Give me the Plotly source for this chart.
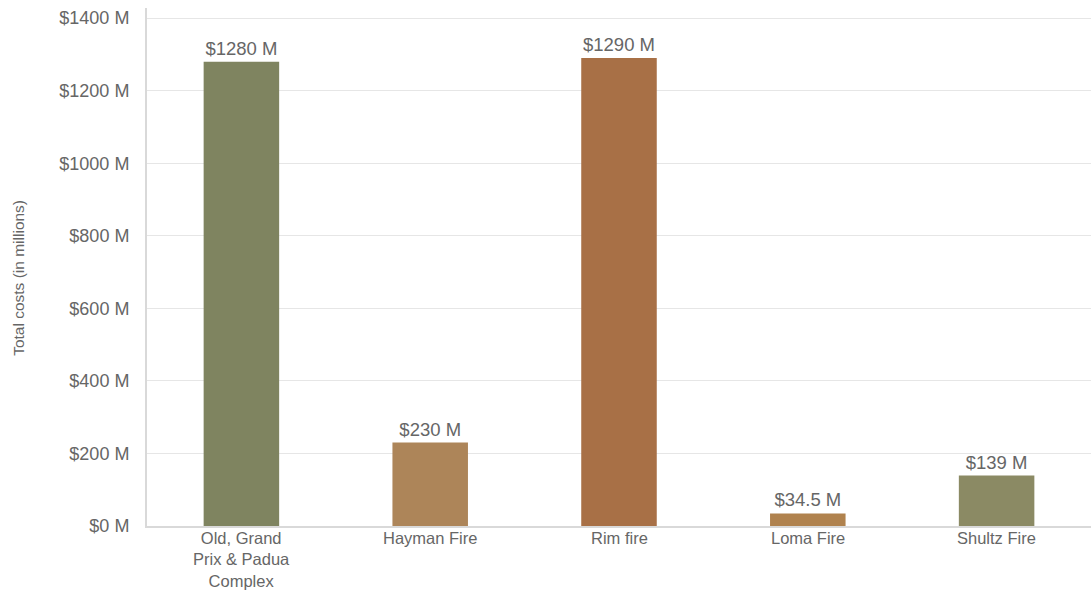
import plotly.graph_objects as go

fires = ["Old, Grand<br>Prix & Padua<br>Complex", "Hayman Fire", "Rim fire", "Loma Fire", "Shultz Fire"]
costs_musd = [1280, 230, 1290, 34.5, 139]
cost_labels = ["$1280 M", "$230 M", "$1290 M", "$34.5 M", "$139 M"]
bar_colors = ["#7f8460", "#ad8559", "#a87046", "#b0824e", "#8b8a64"]
y_ticks = [0, 200, 400, 600, 800, 1000, 1200, 1400]
y_tick_text = [f"${v} M" for v in y_ticks]
y_title = "Total costs (in millions)"

GREY = "#666666"
FONT = "Liberation Sans, Arial, sans-serif"

fig = go.Figure(
    go.Bar(
        x=fires,
        y=costs_musd,
        marker=dict(color=bar_colors, line=dict(width=0)),
        text=cost_labels,
        textposition="outside",
        textfont=dict(size=18.5, color=GREY),
        cliponaxis=False,
    )
)

# Category labels placed just under the axis so the three-line label fits the page
annotations = [
    dict(
        x=name,
        y=0,
        xref="x",
        yref="paper",
        text=name,
        showarrow=False,
        xanchor="center",
        yanchor="top",
        yshift=-2,
        borderpad=0,
        font=dict(family=FONT, size=16.5, color=GREY),
    )
    for name in fires
]

# Vertical axis title
annotations.append(
    dict(
        x=-0.1356,
        y=0.479,
        xref="paper",
        yref="paper",
        text=y_title,
        textangle=-90,
        showarrow=False,
        xanchor="center",
        yanchor="middle",
        font=dict(family=FONT, size=15.5, color=GREY),
    )
)

fig.update_layout(
    width=1091,
    height=590,
    margin=dict(l=147, r=0, t=8, b=64),
    paper_bgcolor="white",
    plot_bgcolor="white",
    font=dict(family=FONT, size=18, color=GREY),
    bargap=0.6,
    showlegend=False,
    annotations=annotations,
)

fig.update_xaxes(
    automargin=False,
    showline=True,
    linecolor="#d9d9d9",
    linewidth=2,
    ticks="",
    showticklabels=False,
)

fig.update_yaxes(
    automargin=False,
    range=[0, 1428],
    tickvals=y_ticks,
    ticktext=y_tick_text,
    showgrid=True,
    gridcolor="#e6e6e6",
    gridwidth=1,
    showline=True,
    linecolor="#d9d9d9",
    linewidth=2,
    zeroline=False,
    ticks="",
    ticklabelstandoff=12,
    tickfont=dict(size=18, color=GREY),
)

fig.write_html("out.html")
